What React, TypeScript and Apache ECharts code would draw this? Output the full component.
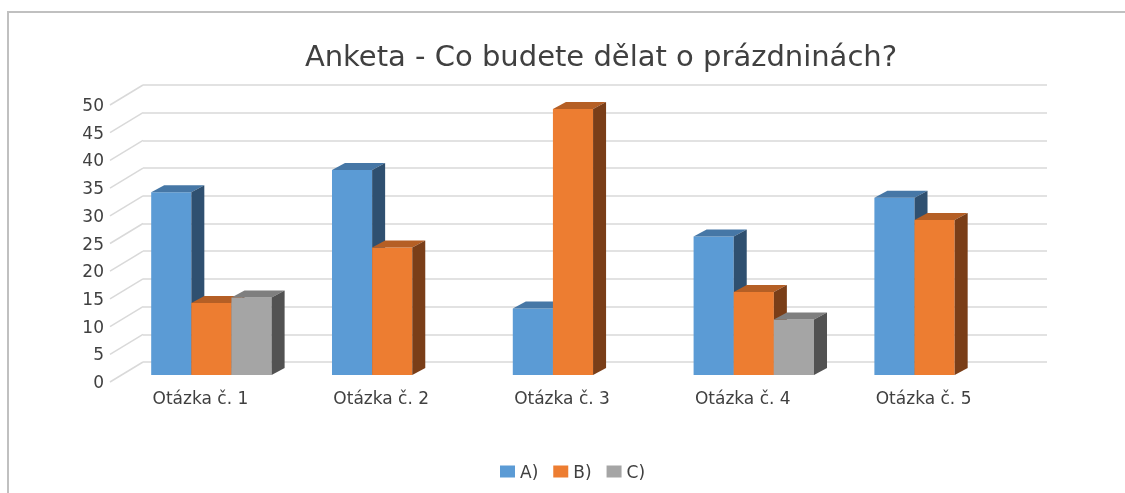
import React, { useEffect, useRef } from "react";
import * as echarts from "echarts";

const categories = ["Otázka č. 1", "Otázka č. 2", "Otázka č. 3", "Otázka č. 4", "Otázka č. 5"];
const seriesNames = ["A)", "B)", "C)"];
const valuesA = [33, 37, 12, 25, 32];
const valuesB = [13, 23, 48, 15, 28];
const valuesC = [14, 0, 0, 10, 0];
const yTicks = [0, 5, 10, 15, 20, 25, 30, 35, 40, 45, 50];

const faceColors = ["#5b9bd5", "#ed7d31", "#a5a5a5"];
const topColors = ["#4677a6", "#b55f25", "#7f7f7f"];
const sideColors = ["#2f5070", "#7a3e18", "#525252"];

const FONT = "DejaVu Sans";
// offset of bars' front face from the back wall
const BAR_DX = -22;
const BAR_DY = 13;
// bar depth
const DEPTH_X = 13;
const DEPTH_Y = 7;
// full depth of the wall
const WALL_DX = 33;
const WALL_DY = 20;

// back wall grid
const G_LEFT = 143;
const G_RIGHT = 78;
const G_TOP = 85;
const G_BOTTOM = 131;

export default function App() {
  const ref = useRef<HTMLDivElement>(null);
  useEffect(() => {
    if (!ref.current) return;
    const chart = echarts.init(ref.current, null, { renderer: "svg" });
    const allValues = [valuesA, valuesB, valuesC];

    const barSeries = allValues.map((vals, s) => ({
      type: "custom",
      name: seriesNames[s],
      itemStyle: { color: faceColors[s] },
      data: vals.map((v, i) => [i, v]),
      renderItem: (params: any, api: any) => {
        const i = api.value(0);
        const v = api.value(1);
        if (!v || v <= 0) return null;
        const band = api.size([1, 0])[0];
        const w = band * 0.222;
        const ct = api.coord([i, v]);
        const cb = api.coord([i, 0]);
        const left = ct[0] + BAR_DX - 1.5 * w + s * w;
        const top = ct[1] + BAR_DY;
        const bottom = cb[1] + BAR_DY;
        const right = left + w;
        return {
          type: "group",
          children: [
            {
              type: "rect",
              shape: { x: left, y: top, width: w, height: bottom - top },
              style: { fill: faceColors[s] },
            },
            {
              type: "polygon",
              shape: {
                points: [
                  [left, top],
                  [left + DEPTH_X, top - DEPTH_Y],
                  [right + DEPTH_X, top - DEPTH_Y],
                  [right, top],
                ],
              },
              style: { fill: topColors[s] },
            },
            {
              type: "polygon",
              shape: {
                points: [
                  [right, top],
                  [right + DEPTH_X, top - DEPTH_Y],
                  [right + DEPTH_X, bottom - DEPTH_Y],
                  [right, bottom],
                ],
              },
              style: { fill: sideColors[s] },
            },
          ],
        };
      },
    }));

    const tickSeries = {
      type: "custom",
      name: "ticks",
      silent: true,
      z: 1,
      data: yTicks.map((v) => [0, v]),
      renderItem: (params: any, api: any) => {
        const band = api.size([1, 0])[0];
        const c = api.coord([0, api.value(1)]);
        const x = c[0] - band / 2;
        return {
          type: "line",
          shape: { x1: x - WALL_DX, y1: c[1] + WALL_DY, x2: x, y2: c[1] },
          style: { stroke: "#d9d9d9", lineWidth: 1.5 },
        };
      },
    };

    chart.setOption({
      animation: false,
      textStyle: { fontFamily: FONT },
      title: {
        text: "Anketa - Co budete dělat o prázdninách?",
        left: 596,
        top: 36,
        textAlign: "center",
        textStyle: { fontFamily: FONT, fontSize: 29, fontWeight: "normal", color: "#404040" },
      },
      legend: {
        data: seriesNames,
        left: 495,
        top: 458,
        icon: "rect",
        itemWidth: 15,
        itemHeight: 12,
        itemGap: 15,
        textStyle: { fontFamily: FONT, fontSize: 17, color: "#404040" },
      },
      grid: [
        { left: G_LEFT, right: G_RIGHT, top: G_TOP, bottom: G_BOTTOM },
        {
          left: G_LEFT - WALL_DX,
          right: G_RIGHT + WALL_DX,
          top: G_TOP + WALL_DY,
          bottom: G_BOTTOM - WALL_DY,
        },
      ],
      xAxis: [
        {
          type: "category",
          gridIndex: 0,
          data: categories,
          axisLine: { show: false },
          axisTick: { show: false },
          axisLabel: { show: false },
        },
        {
          type: "category",
          gridIndex: 1,
          data: categories,
          axisLine: { show: false },
          axisTick: { show: false },
          axisLabel: {
            margin: 7,
            fontFamily: FONT,
            fontSize: 17,
            color: "#404040",
          },
        },
      ],
      yAxis: [
        {
          type: "value",
          gridIndex: 0,
          min: 0,
          max: 50,
          interval: 5,
          axisLine: { show: false },
          axisTick: { show: false },
          axisLabel: { show: false },
          splitLine: { lineStyle: { color: "#d9d9d9", width: 1.5 } },
        },
        {
          type: "value",
          gridIndex: 1,
          min: 0,
          max: 50,
          interval: 5,
          axisLine: { show: false },
          axisTick: { show: false },
          splitLine: { show: false },
          axisLabel: {
            margin: 6,
            fontFamily: FONT,
            fontSize: 17,
            color: "#404040",
          },
        },
      ],
      graphic: [
        {
          type: "rect",
          shape: { x: 8, y: 12, width: 1130, height: 500 },
          style: { fill: "none", stroke: "#c0c0c0", lineWidth: 2 },
          silent: true,
        },
      ],
      series: [tickSeries, ...barSeries],
    });
    return () => chart.dispose();
  }, []);
  return (
    <div
      ref={ref}
      style={{ position: "fixed", left: 0, top: 0, width: 1125, height: 493 }}
    />
  );
}
